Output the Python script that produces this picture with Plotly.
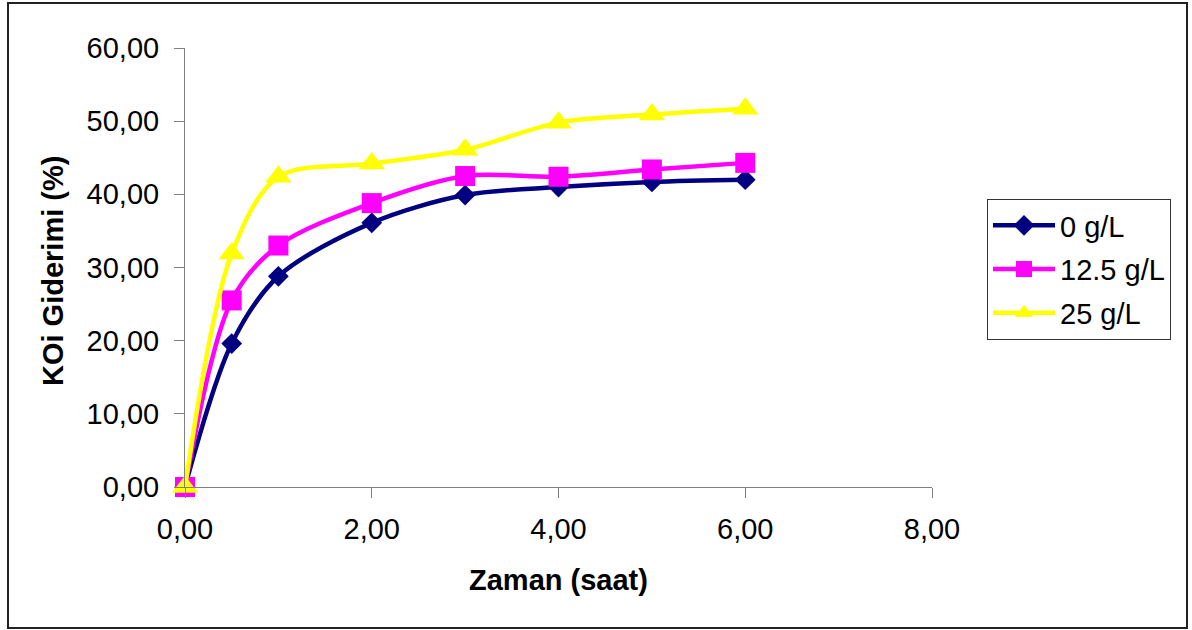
import plotly.graph_objects as go

# Sampling times (hours)
zaman = [0, 0.5, 1, 2, 3, 4, 5, 6]

# COD removal (%) for each dose
koi_0 = [0.0, 19.6, 28.8, 36.1, 39.9, 41.0, 41.7, 42.0]
koi_125 = [0.0, 25.5, 33.0, 38.8, 42.5, 42.4, 43.4, 44.3]
koi_25 = [0.0, 31.9, 42.4, 44.2, 46.1, 49.8, 50.9, 51.7]

series_names = ["0 g/L", "12.5 g/L", "25 g/L"]
series_values = [koi_0, koi_125, koi_25]
series_colors = ["#000080", "#FF00FF", "#FFFF00"]
series_symbols = ["diamond", "square", "triangle-up"]
series_sizes = [16, 20, 23]

x_ticks = [0, 2, 4, 6, 8]
y_ticks = [0, 10, 20, 30, 40, 50, 60]

FONT = "Liberation Sans, Arial, sans-serif"

# plot area in pixels
L, R, T, B = 185, 932, 48, 487
W, H = 1192, 630


def px_x(p):
    return (p - L) / (R - L)


def px_y(p):
    return (B - p) / (B - T)


fig = go.Figure()
for name, vals, col, sym, sz in zip(series_names, series_values, series_colors,
                                     series_symbols, series_sizes):
    fig.add_trace(go.Scatter(
        x=zaman, y=vals, name=name, mode="lines+markers",
        line=dict(color=col, width=4.5, shape="spline", smoothing=0.9),
        marker=dict(symbol=sym, size=sz, color=col, line=dict(width=0)),
        cliponaxis=False, legendgroup=name,
    ))

axis_common = dict(
    showline=True, linecolor="#808080", linewidth=1,
    ticks="outside", ticklen=10, tickcolor="#808080", tickwidth=1,
    showgrid=False, zeroline=False,
    tickfont=dict(family=FONT, size=29, color="black"),
    tickformat=".2f",
)

fig.update_layout(
    width=W, height=H,
    margin=dict(l=L, r=W - R, t=T, b=H - B),
    paper_bgcolor="white", plot_bgcolor="white",
    separators=",.",
    font=dict(family=FONT, color="black"),
    xaxis=dict(range=[0, 8], tickvals=x_ticks, ticklabelstandoff=6, **axis_common),
    yaxis=dict(range=[0, 60], tickvals=y_ticks, ticklabelstandoff=9, **axis_common),
    legend=dict(
        x=px_x(987), y=px_y(199), xanchor="left", yanchor="top",
        bordercolor="#333333", borderwidth=1, bgcolor="white",
        font=dict(family=FONT, size=29, color="black"),
        traceorder="grouped", tracegroupgap=3, itemwidth=62,
    ),
    showlegend=True,
    shapes=[dict(
        type="rect", xref="paper", yref="paper",
        x0=px_x(8), x1=px_x(1187), y0=px_y(628), y1=px_y(3),
        line=dict(color="#222222", width=2), fillcolor="rgba(0,0,0,0)",
        layer="below",
    )],
    annotations=[
        dict(text="<b>Zaman (saat)</b>", xref="paper", yref="paper",
             x=px_x(558), y=px_y(580), showarrow=False,
             font=dict(family=FONT, size=29, color="black"),
             xanchor="center", yanchor="middle"),
        dict(text="<b>KOi Giderimi (%)</b>", xref="paper", yref="paper",
             x=px_x(53), y=px_y(271), showarrow=False, textangle=-90,
             font=dict(family=FONT, size=29, color="black"),
             xanchor="center", yanchor="middle"),
    ],
)

fig.write_html("out.html")
